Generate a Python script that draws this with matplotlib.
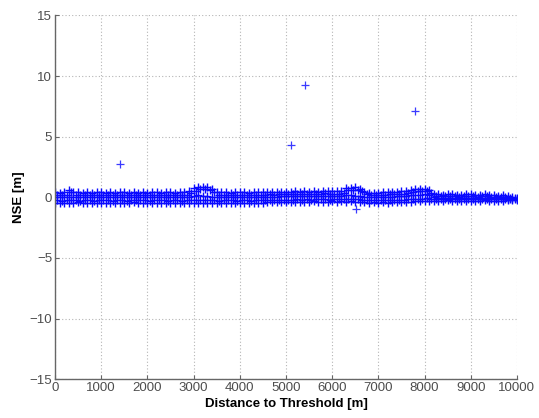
"""NSE versus distance to threshold, MATLAB-style scatter."""

import matplotlib

matplotlib.use("Agg")
import matplotlib.pyplot as plt

dist = [
    0, 100, 200, 300, 400, 500, 600, 700, 800, 900,
    1000, 1100, 1200, 1300, 1400, 1500, 1600, 1700, 1800, 1900,
    2000, 2100, 2200, 2300, 2400, 2500, 2600, 2700, 2800, 2900,
    3000, 3100, 3200, 3300, 3400, 3500, 3600, 3700, 3800, 3900,
    4000, 4100, 4200, 4300, 4400, 4500, 4600, 4700, 4800, 4900,
    5000, 5100, 5200, 5300, 5400, 5500, 5600, 5700, 5800, 5900,
    6000, 6100, 6200, 6300, 6400, 6500, 6600, 6700, 6800, 6900,
    7000, 7100, 7200, 7300, 7400, 7500, 7600, 7700, 7800, 7900,
    8000, 8100, 8200, 8300, 8400, 8500, 8600, 8700, 8800, 8900,
    9000, 9100, 9200, 9300, 9400, 9500, 9600, 9700, 9800, 9900, 10000,
]
nse_hi = [
    0.40, 0.38, 0.42, 0.62, 0.45, 0.40, 0.37, 0.41, 0.39, 0.43,
    0.40, 0.38, 0.41, 0.37, 0.40, 0.42, 0.39, 0.40, 0.38, 0.41,
    0.39, 0.42, 0.40, 0.38, 0.41, 0.40, 0.39, 0.43, 0.40, 0.50,
    0.75, 0.82, 0.85, 0.83, 0.70, 0.43, 0.40, 0.42, 0.39, 0.41,
    0.40, 0.42, 0.39, 0.41, 0.43, 0.40, 0.42, 0.44, 0.43, 0.45,
    0.46, 0.44, 0.48, 0.45, 0.50, 0.47, 0.49, 0.46, 0.50, 0.48,
    0.50, 0.48, 0.52, 0.75, 0.80, 0.82, 0.70, 0.42, 0.38, 0.36,
    0.38, 0.40, 0.42, 0.44, 0.46, 0.48, 0.52, 0.60, 0.68, 0.70,
    0.72, 0.60, 0.28, 0.25, 0.22, 0.26, 0.24, 0.20, 0.22, 0.26,
    0.24, 0.20, 0.22, 0.28, 0.20, 0.16, 0.14, 0.18, 0.10, 0.06, -0.05,
]
nse_mid = [
    0.02, 0.05, 0.00, 0.04, 0.03, 0.01, 0.05, 0.02, 0.00, 0.04,
    0.03, 0.01, 0.05, 0.02, 0.04, 0.00, 0.03, 0.05, 0.01, 0.02,
    0.04, 0.00, 0.03, 0.05, 0.01, 0.02, 0.04, 0.00, 0.03, 0.05,
    0.10, 0.15, 0.12, 0.08, 0.05, 0.02, 0.04, 0.00, 0.03, 0.05,
    0.01, 0.02, 0.04, 0.00, 0.03, 0.05, 0.02, 0.06, 0.04, 0.08,
    0.10, 0.07, 0.12, 0.09, 0.11, 0.08, 0.13, 0.10, 0.12, 0.09,
    0.11, 0.08, 0.12, 0.15, 0.18, 0.14, 0.10, 0.05, 0.02, 0.00,
    0.03, 0.05, 0.02, 0.06, 0.08, 0.10, 0.12, 0.15, 0.20, 0.22,
    0.25, 0.15, 0.00, -0.03, -0.05, -0.02, -0.04, -0.06, -0.03, -0.05,
    -0.04, -0.07, -0.05, -0.02, -0.06, -0.08, -0.05, -0.07, -0.10, -0.12, -0.15,
]
nse_lo = [
    -0.45, -0.43, -0.47, -0.44, -0.46, -0.42, -0.45, -0.47, -0.43, -0.46,
    -0.44, -0.45, -0.47, -0.43, -0.46, -0.44, -0.45, -0.42, -0.46, -0.47,
    -0.43, -0.45, -0.44, -0.46, -0.45, -0.43, -0.47, -0.44, -0.45, -0.46,
    -0.43, -0.45, -0.44, -0.46, -0.45, -0.43, -0.47, -0.44, -0.45, -0.46,
    -0.44, -0.45, -0.47, -0.43, -0.46, -0.44, -0.42, -0.40, -0.39, -0.38,
    -0.37, -0.39, -0.36, -0.38, -0.35, -0.37, -0.34, -0.36, -0.35, -0.37,
    -0.34, -0.36, -0.33, -0.35, -0.34, -0.37, -0.39, -0.41, -0.43, -0.42,
    -0.44, -0.41, -0.43, -0.40, -0.39, -0.37, -0.38, -0.35, -0.33, -0.34,
    -0.32, -0.30, -0.28, -0.27, -0.30, -0.26, -0.29, -0.27, -0.30, -0.28,
    -0.29, -0.27, -0.30, -0.26, -0.29, -0.28, -0.27, -0.29, -0.26, -0.24, -0.20,
]

# second set of samples, halfway between the first
dist_b = [
    50, 150, 250, 350, 450, 550, 650, 750, 850, 950,
    1050, 1150, 1250, 1350, 1450, 1550, 1650, 1750, 1850, 1950,
    2050, 2150, 2250, 2350, 2450, 2550, 2650, 2750, 2850, 2950,
    3050, 3150, 3250, 3350, 3450, 3550, 3650, 3750, 3850, 3950,
    4050, 4150, 4250, 4350, 4450, 4550, 4650, 4750, 4850, 4950,
    5050, 5150, 5250, 5350, 5450, 5550, 5650, 5750, 5850, 5950,
    6050, 6150, 6250, 6350, 6450, 6550, 6650, 6750, 6850, 6950,
    7050, 7150, 7250, 7350, 7450, 7550, 7650, 7750, 7850, 7950,
    8050, 8150, 8250, 8350, 8450, 8550, 8650, 8750, 8850, 8950,
    9050, 9150, 9250, 9350, 9450, 9550, 9650, 9750, 9850, 9950,
]
nse_b_hi = [
    0.20, 0.23, 0.17, 0.40, 0.21, 0.19, 0.22, 0.18, 0.20, 0.23,
    0.19, 0.21, 0.18, 0.22, 0.20, 0.17, 0.21, 0.19, 0.23, 0.20,
    0.18, 0.22, 0.20, 0.19, 0.21, 0.23, 0.18, 0.20, 0.22, 0.32,
    0.55, 0.65, 0.70, 0.60, 0.40, 0.21, 0.19, 0.22, 0.20, 0.18,
    0.21, 0.19, 0.22, 0.20, 0.23, 0.21, 0.24, 0.22, 0.25, 0.26,
    0.28, 0.25, 0.29, 0.27, 0.31, 0.28, 0.30, 0.27, 0.32, 0.29,
    0.31, 0.29, 0.34, 0.58, 0.62, 0.64, 0.50, 0.24, 0.20, 0.18,
    0.21, 0.23, 0.25, 0.27, 0.29, 0.31, 0.36, 0.45, 0.52, 0.55,
    0.52, 0.38, 0.12, 0.10, 0.08, 0.11, 0.09, 0.06, 0.08, 0.10,
    0.08, 0.05, 0.07, 0.12, 0.04, 0.02, 0.00, 0.04, -0.02, -0.05,
]
nse_b_lo = [
    -0.25, -0.28, -0.23, -0.26, -0.24, -0.27, -0.22, -0.25, -0.28, -0.24,
    -0.26, -0.23, -0.27, -0.25, -0.24, -0.28, -0.22, -0.26, -0.25, -0.23,
    -0.27, -0.24, -0.26, -0.23, -0.28, -0.25, -0.24, -0.27, -0.23, -0.26,
    -0.22, -0.20, -0.21, -0.24, -0.25, -0.27, -0.23, -0.26, -0.24, -0.28,
    -0.25, -0.23, -0.27, -0.24, -0.26, -0.22, -0.25, -0.23, -0.21, -0.20,
    -0.19, -0.21, -0.18, -0.20, -0.17, -0.19, -0.16, -0.18, -0.17, -0.19,
    -0.16, -0.18, -0.15, -0.14, -0.13, -0.16, -0.20, -0.23, -0.25, -0.24,
    -0.26, -0.23, -0.25, -0.22, -0.20, -0.19, -0.18, -0.15, -0.12, -0.10,
    -0.08, -0.12, -0.16, -0.15, -0.17, -0.13, -0.16, -0.15, -0.17, -0.14,
    -0.16, -0.15, -0.17, -0.13, -0.16, -0.17, -0.15, -0.16, -0.18, -0.17,
]

# isolated points
out_dist = [1400, 5100, 5420, 6510, 7790]
out_nse = [2.75, 4.3, 9.3, -1.0, 7.1]

x_ticks = [0, 1000, 2000, 3000, 4000, 5000, 6000, 7000, 8000, 9000, 10000]
y_ticks = [-15, -10, -5, 0, 5, 10, 15]

plt.rcParams["font.family"] = ["Liberation Sans", "DejaVu Sans"]

fig = plt.figure(figsize=(5.39, 4.18), dpi=100)
ax = fig.add_axes([0.102, 0.093, 0.857, 0.870])

blue = "#0a0aff"
for row in (nse_hi, nse_mid, nse_lo):
    ax.plot(dist, row, ls="none", marker="+", ms=6, mew=1.0, color=blue)
for row in (nse_b_hi, nse_b_lo):
    ax.plot(dist_b, row, ls="none", marker="+", ms=6, mew=1.0, color=blue)
ax.plot(out_dist, out_nse, ls="none", marker="+", ms=6, mew=0.9, color="#3a3aff")

ax.set_xlim(0, 10000)
ax.set_ylim(-15, 15)
ax.set_xticks(x_ticks)
ax.set_yticks(y_ticks)
ax.grid(True, color="#b5b5b5", ls=(0, (1, 2)), lw=0.8)
ax.set_axisbelow(True)

for side in ("top", "right"):
    ax.spines[side].set_visible(False)
for side in ("left", "bottom"):
    ax.spines[side].set_color("#666666")
    ax.spines[side].set_linewidth(1.0)
ax.tick_params(direction="in", length=3, color="#666666", labelsize=9.5,
               labelcolor="#4d4d4d", pad=2)

ax.set_xlabel("Distance to Threshold [m]", fontsize=9.5, fontweight="bold", labelpad=3)
ax.set_ylabel("NSE [m]", fontsize=9.5, fontweight="bold", labelpad=3)

fig.savefig("out.png", dpi=100)
